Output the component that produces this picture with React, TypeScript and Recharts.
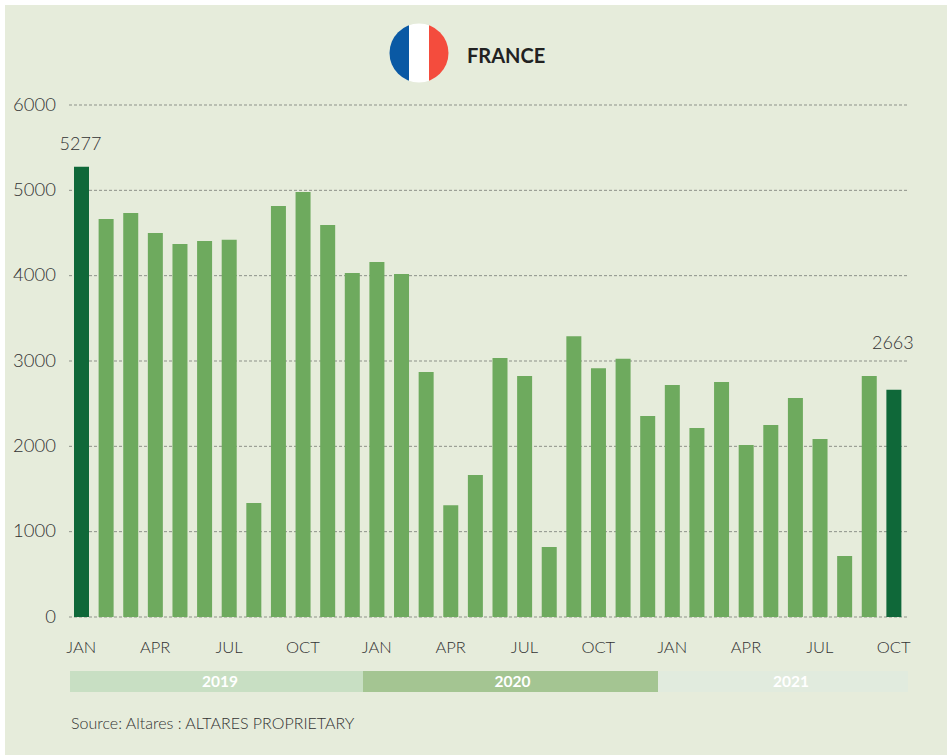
import { Bar, BarChart, CartesianGrid, Cell, LabelList, XAxis, YAxis } from "recharts"

const months = [
  "JAN", "FEB", "MAR", "APR", "MAY", "JUN", "JUL", "AUG", "SEP", "OCT", "NOV", "DEC",
  "JAN", "FEB", "MAR", "APR", "MAY", "JUN", "JUL", "AUG", "SEP", "OCT", "NOV", "DEC",
  "JAN", "FEB", "MAR", "APR", "MAY", "JUN", "JUL", "AUG", "SEP", "OCT",
]

const values = [
  5277, 4665, 4735, 4500, 4370, 4405, 4420, 1335, 4815, 4980, 4595, 4030,
  4160, 4020, 2870, 1310, 1665, 3035, 2825, 820, 3290, 2915, 3025, 2355,
  2720, 2215, 2755, 2015, 2250, 2565, 2085, 715, 2825, 2663,
]

const yTicks = [0, 1000, 2000, 3000, 4000, 5000, 6000]
const years = ["2019", "2020", "2021"]

const data = months.map((month, i) => ({ id: i, month, value: values[i] }))

const FONT = "Lato, sans-serif"
const LAST = values.length - 1

// only the first and last bars carry a value, and they sit at different heights
function EndLabel(props: any) {
  const { x, y, width, index, value } = props
  if (index !== 0 && index !== LAST) return null
  const lift = index === 0 ? 17 : 41
  return (
    <text x={x + width / 2 - 1} y={y - lift} textAnchor="middle" fontSize={18} fontWeight={300} fill="#333" fontFamily={FONT}>
      {value}
    </text>
  )
}

const bandStyle = {
  position: "absolute",
  top: 671,
  height: 21,
  lineHeight: "21px",
  textAlign: "center",
  boxSizing: "border-box",
  color: "#fff",
  fontWeight: 700,
  fontSize: 15.5,
  fontFamily: FONT,
} as const

export default function App() {
  return (
    <div style={{ position: "absolute", left: 0, top: 0, width: 947, height: 755, background: "#fff", overflow: "hidden" }}>
      <div style={{ position: "absolute", left: 5, top: 5, width: 942, height: 750, background: "#e6ecdb" }} />

      <BarChart
        width={947}
        height={755}
        data={data}
        margin={{ top: 105, right: 39, bottom: 0, left: 0 }}
        barSize={15}
        style={{ position: "absolute", left: 0, top: 0 }}
      >
        <CartesianGrid vertical={false} stroke="#8d9189" strokeDasharray="3 2" />
        <XAxis
          dataKey="id"
          type="category"
          height={138}
          interval={2}
          padding={{ left: 0, right: 2 }}
          axisLine={false}
          tickLine={false}
          tickMargin={18}
          tick={{ fontSize: 16.5, fontWeight: 300, fill: "#333", fontFamily: FONT }}
          tickFormatter={(id: number) => months[id]}
        />
        <YAxis
          type="number"
          domain={[0, 6000]}
          ticks={yTicks}
          width={69}
          axisLine={false}
          tickLine={false}
          tickSize={0}
          tickMargin={13}
          tick={{ fontSize: 18.5, fontWeight: 300, fill: "#333", fontFamily: FONT, dy: -1 }}
        />
        <Bar dataKey="value" fill="#6eaa5e" isAnimationActive={false}>
          {data.map((d) => (
            <Cell key={d.id} fill={d.id === 0 || d.id === LAST ? "#0f6839" : "#6eaa5e"} />
          ))}
          <LabelList dataKey="value" content={EndLabel} />
        </Bar>
      </BarChart>

      <svg width={60} height={60} style={{ position: "absolute", left: 389, top: 23 }}>
        <defs>
          <clipPath id="flag">
            <circle cx={30} cy={30} r={29.5} />
          </clipPath>
        </defs>
        <g clipPath="url(#flag)">
          <rect x={0} y={0} width={20} height={60} fill="#0a59a4" />
          <rect x={20} y={0} width={20} height={60} fill="#ffffff" />
          <rect x={40} y={0} width={20} height={60} fill="#f44c3d" />
        </g>
      </svg>
      <div style={{ position: "absolute", left: 467, top: 42, fontFamily: FONT, fontWeight: 700, fontSize: 20, lineHeight: "26px", color: "#222" }}>
        FRANCE
      </div>

      <div style={{ ...bandStyle, left: 70, width: 293, paddingLeft: 7, background: "#c8dfc3" }}>{years[0]}</div>
      <div style={{ ...bandStyle, left: 363, width: 295, paddingLeft: 4, background: "#a4c592" }}>{years[1]}</div>
      <div style={{ ...bandStyle, left: 658, width: 250, paddingLeft: 16, background: "#e1ebde" }}>{years[2]}</div>

      <div style={{ position: "absolute", left: 71, top: 713, fontFamily: FONT, fontSize: 16, fontWeight: 300, lineHeight: "20px", color: "#333" }}>
        Source: Altares : ALTARES PROPRIETARY
      </div>
    </div>
  )
}
